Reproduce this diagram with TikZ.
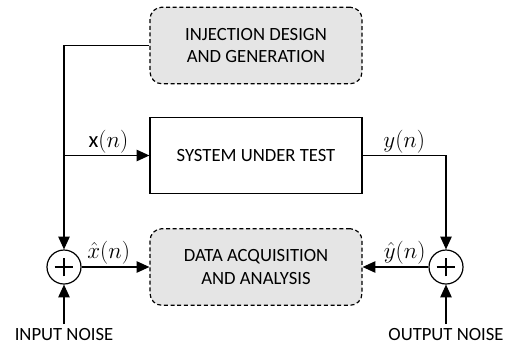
\documentclass[tikz,border=0pt]{standalone}
\usepackage{fontspec}
\setmainfont{Carlito}
\usepackage{tikz}
\usetikzlibrary{positioning, arrows.meta}
\tikzset{x=0.75pt, y=-0.75pt,
  every node/.style={font=\fontsize{14}{17}\selectfont},
  block/.style={draw, line width=0.9pt, minimum width=159pt, minimum height=57.5pt, align=center},
  grayblock/.style={block, fill=gray!20, rounded corners=9pt, dash pattern=on 3pt off 2pt},
  sum/.style={draw, circle, line width=0.9pt, minimum size=25.5pt, inner sep=0pt,
    path picture={\draw[line width=2.1pt] (path picture bounding box.center) ++(-7pt,0) -- ++(14pt,0)
      (path picture bounding box.center) ++(0,-7pt) -- ++(0,14pt);}},
  siglabel/.style={above, inner sep=1.5pt, font=\fontsize{17}{18}\selectfont},
  sig/.style={line width=0.9pt, -{Triangle[length=9.5pt, width=8.5pt]}}}

\begin{document}
\begin{tikzpicture}
            \useasboundingbox (0,0) rectangle (511,347);
            \node[grayblock] (inj) at (256,45.5) {INJECTION DESIGN\\AND GENERATION};
            \node[block] (sut) at (256,155.5) {SYSTEM UNDER TEST};
            \node[grayblock] (daq) at (256,267) {DATA ACQUISITION\\AND ANALYSIS};
            \node[sum] (sumin) at (64,267) {};
            \node[sum] (sumout) at (446,267) {};
            \node (innoise) at (64,335) {INPUT NOISE};
            \node (outnoise) at (446,335) {OUTPUT NOISE};
            \coordinate (br) at (sumin |- sut.west);

            \draw[sig] (inj.west) -| (sumin.north);
            \draw[sig] (br) -- node[siglabel, pos=0.52]{x$(n)$} (sut.west);
            \draw[sig] (sut.east) -| node[siglabel, pos=0.25]{$y(n)$} (sumout.north);
            \draw[sig] (sumin) -- node[siglabel, pos=0.4]{$\hat{x}(n)$} (daq.west);
            \draw[sig] (sumout) -- node[siglabel, pos=0.36]{$\hat{y}(n)$} (daq.east);
            \draw[sig] (innoise) -- (sumin);
            \draw[sig] (outnoise) -- (sumout);
        \end{tikzpicture}
\end{document}
